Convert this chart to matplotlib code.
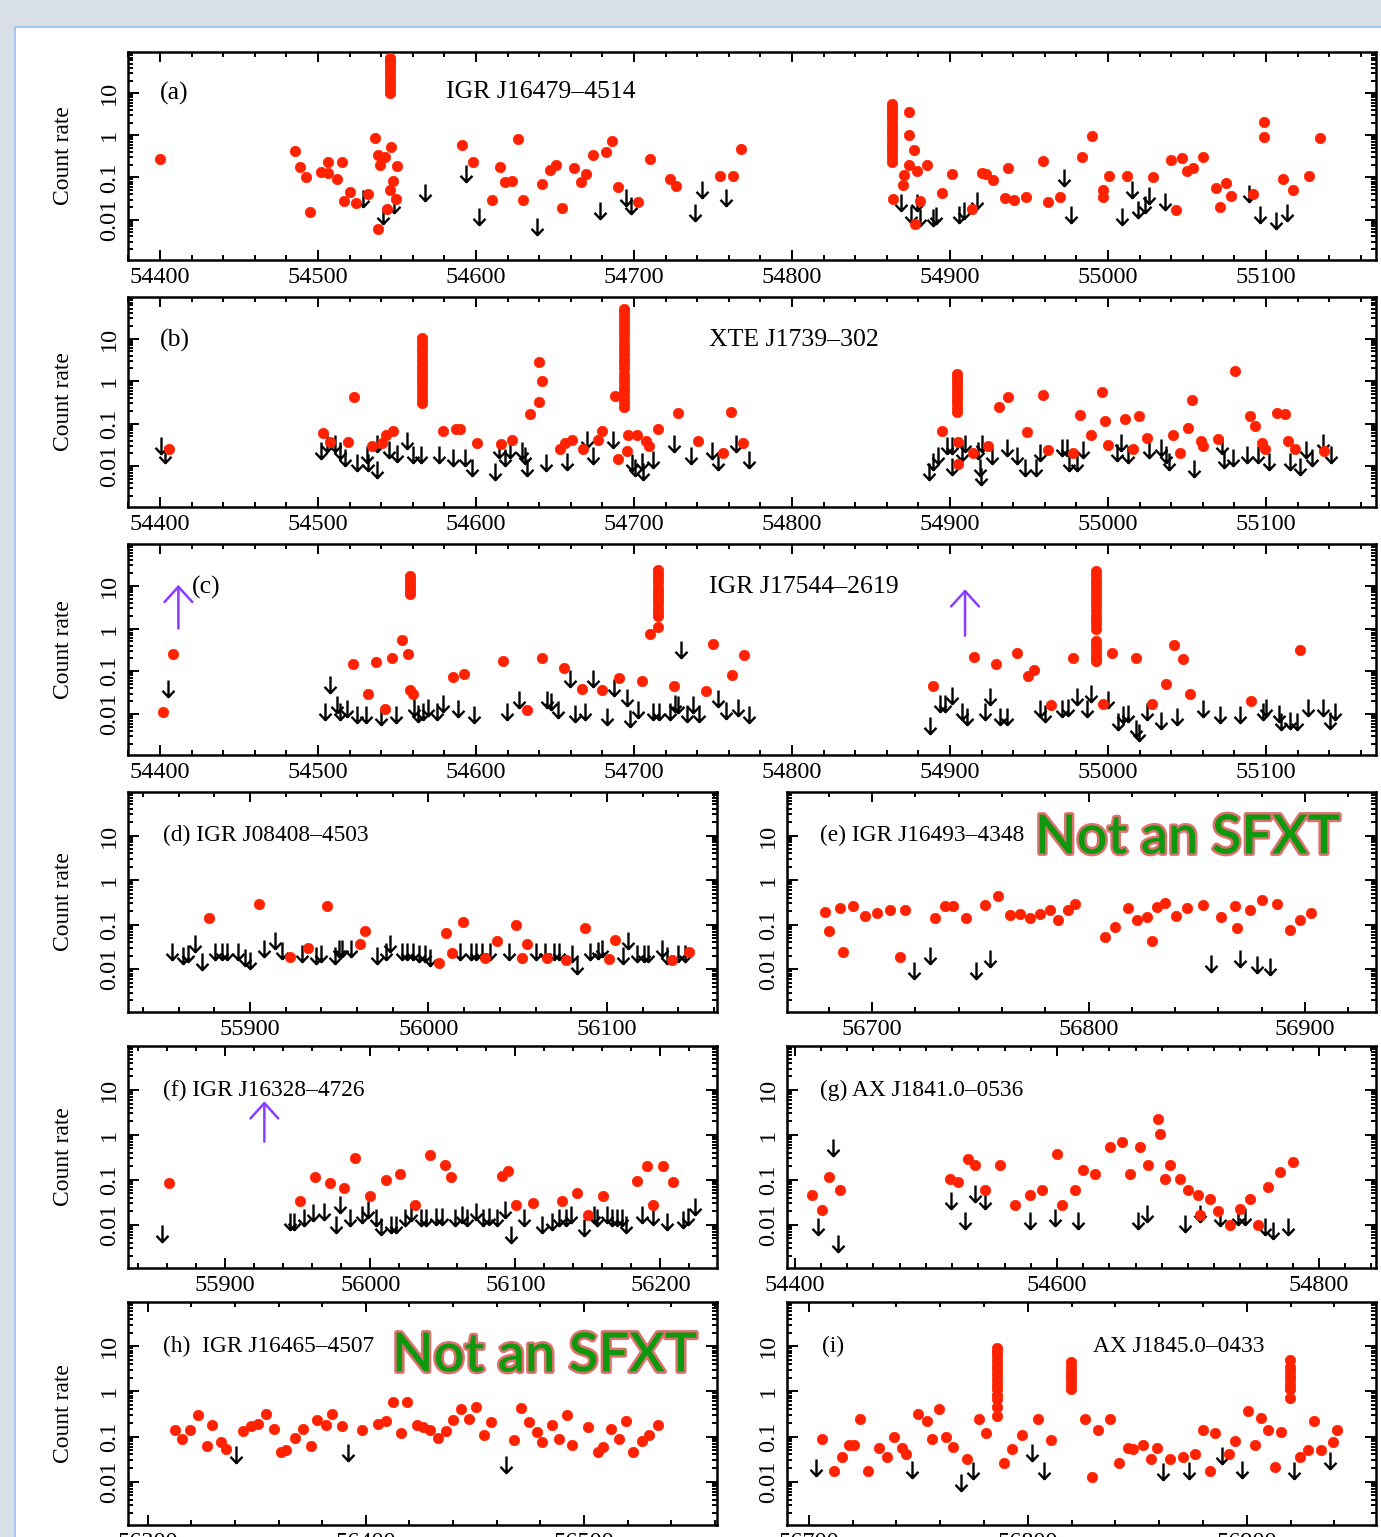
import numpy as np
import matplotlib.pyplot as plt
import matplotlib.patheffects as pe
from matplotlib.path import Path
from matplotlib.patches import Rectangle
from matplotlib.ticker import MultipleLocator, LogLocator, NullFormatter

plt.rcParams["font.family"] = ["Liberation Serif", "DejaVu Serif"]
plt.rcParams["font.size"] = 17.5

RED = "#ff2200"
PURPLE = "#8a3cff"

# ---------------- (a) IGR J16479-4514 ----------------
a_det = np.array([
    (54400, 0.28), (54485.4, 0.43), (54488.6, 0.175), (54492.4, 0.1), (54495, 0.015),
    (54501.7, 0.138), (54506.5, 0.23), (54506.5, 0.127), (54512.2, 0.09), (54515, 0.23),
    (54520.3, 0.044), (54516.7, 0.028), (54524, 0.025), (54531.8, 0.04), (54536, 0.88),
    (54538, 0.34), (54539.2, 0.2), (54542.4, 0.3), (54546, 0.53), (54549.8, 0.19),
    (54547.3, 0.083), (54545.6, 0.05), (54549.4, 0.031), (54543.5, 0.018), (54537.8, 0.006),
    (54545.6, 10), (54545.6, 12.5), (54545.6, 16), (54545.6, 20), (54545.6, 25),
    (54545.6, 31), (54545.6, 39), (54545.6, 48), (54545.6, 58), (54545.6, 68),
    (54591, 0.59), (54598, 0.23), (54615, 0.18), (54610.3, 0.03), (54618.4, 0.076),
    (54622.6, 0.083), (54626.4, 0.83), (54630, 0.029), (54642, 0.07), (54646.8, 0.15),
    (54650.4, 0.2), (54654.2, 0.019), (54662.2, 0.17), (54666.3, 0.08), (54669.6, 0.12),
    (54674.3, 0.34), (54682.3, 0.41), (54686.3, 0.73), (54690, 0.058), (54702.7, 0.026),
    (54710, 0.28), (54722.8, 0.09), (54726.6, 0.062), (54754.4, 0.11), (54762.8, 0.11),
    (54767.5, 0.47),
    (54863.5, 0.23), (54863.5, 0.3), (54863.5, 0.38), (54863.5, 0.48), (54863.5, 0.6),
    (54863.5, 0.75), (54863.5, 0.95), (54863.5, 1.2), (54863.5, 1.5), (54863.5, 1.9),
    (54863.5, 2.4), (54863.5, 3.0), (54863.5, 3.8), (54863.5, 4.8), (54863.5, 5.4),
    (54874, 3.5), (54874, 1.0), (54877, 0.45), (54874, 0.2), (54871, 0.115),
    (54870, 0.067), (54879.3, 0.14), (54864, 0.031), (54878, 0.008), (54881, 0.028),
    (54885.2, 0.2), (54894.7, 0.042), (54901.5, 0.124), (54913.7, 0.018), (54920, 0.13),
    (54923, 0.12), (54927, 0.086), (54936.5, 0.17), (54934.8, 0.032), (54940.7, 0.03),
    (54948, 0.035), (54958.7, 0.24), (54961.8, 0.026), (54969.6, 0.034), (54983.7, 0.31),
    (54990, 0.96), (54996.6, 0.05), (54997, 0.035), (55000.6, 0.11), (55011.8, 0.11),
    (55028.7, 0.1), (55042.8, 0.017), (55039.7, 0.26), (55046.6, 0.29), (55049.8, 0.14),
    (55053.6, 0.17), (55060.3, 0.3), (55068.2, 0.055), (55074.7, 0.072), (55077.6, 0.036),
    (55070.9, 0.02), (55092, 0.04), (55098.7, 2.1), (55098.7, 0.93), (55110.6, 0.09),
    (55116.9, 0.051), (55127.2, 0.11), (55134.2, 0.85),
])
a_ul = np.array([
    (54528.7, 0.051), (54541.4, 0.02), (54548, 0.036), (54567.7, 0.07), (54593.7, 0.2),
    (54602, 0.019), (54638.4, 0.011), (54678.5, 0.026), (54695, 0.053), (54698, 0.034),
    (54738.6, 0.023), (54742.8, 0.083), (54758, 0.053), (54869, 0.04), (54875, 0.021),
    (54879, 0.04), (54881, 0.018), (54889, 0.018), (54891, 0.02), (54905.9, 0.021),
    (54908.9, 0.026), (54916.9, 0.045), (54972, 0.16), (54976.4, 0.021), (55008.6, 0.019),
    (55015.4, 0.083), (55019.2, 0.027), (55023.4, 0.037), (55026, 0.06), (55036, 0.042),
    (55089, 0.066), (55096, 0.021), (55106, 0.015), (55113, 0.023),
])

# ---------------- (b) XTE J1739-302 ----------------
b_det = np.array([
    (54405.9, 0.025), (54503, 0.06), (54507.6, 0.037), (54518.8, 0.038), (54522.8, 0.43),
    (54534, 0.03), (54540.3, 0.035), (54542.9, 0.053), (54547.7, 0.069),
    (54566, 0.3), (54566, 0.38), (54566, 0.5), (54566, 0.65), (54566, 0.85),
    (54566, 1.1), (54566, 1.4), (54566, 1.8), (54566, 2.3), (54566, 3.0),
    (54566, 3.9), (54566, 5.0), (54566, 6.5), (54566, 8.3), (54566, 10.5),
    (54579.3, 0.069), (54587.3, 0.073), (54589.9, 0.073), (54600.8, 0.035), (54615.6, 0.033),
    (54622.6, 0.042), (54634, 0.17), (54639.9, 0.32), (54642, 1.0), (54639.9, 2.8),
    (54653.2, 0.025), (54656.3, 0.035), (54660.6, 0.042), (54668, 0.026), (54677, 0.042),
    (54680, 0.069), (54688, 0.45),
    (54693.9, 0.25), (54693.9, 0.32), (54693.9, 0.42), (54693.9, 0.55), (54693.9, 0.7),
    (54693.9, 0.9), (54693.9, 1.2), (54693.9, 1.5), (54693.9, 2.0), (54693.9, 2.6),
    (54693.9, 3.3), (54693.9, 4.3), (54693.9, 5.6), (54693.9, 7.2), (54693.9, 9.3),
    (54693.9, 12), (54693.9, 15.5), (54693.9, 20), (54693.9, 26), (54693.9, 33),
    (54693.9, 42), (54693.9, 50),
    (54690, 0.015), (54695.4, 0.023), (54696.4, 0.055), (54701.7, 0.055), (54707.6, 0.04),
    (54709.7, 0.03), (54715.4, 0.076), (54727.7, 0.18), (54740.3, 0.04), (54756.5, 0.021),
    (54761.2, 0.19), (54769.2, 0.035), (54895, 0.066),
    (54904.2, 0.19), (54904.2, 0.24), (54904.2, 0.3), (54904.2, 0.38), (54904.2, 0.48),
    (54904.2, 0.6), (54904.2, 0.75), (54904.2, 0.95), (54904.2, 1.2), (54904.2, 1.5),
    (54905, 0.038), (54905, 0.011), (54914.7, 0.021), (54924, 0.03), (54930.9, 0.25),
    (54936.9, 0.43), (54948.5, 0.063), (54959, 0.46), (54962, 0.024), (54978, 0.021),
    (54982, 0.16), (54989, 0.053), (54996.4, 0.57), (54998, 0.116), (55000, 0.032),
    (55010.8, 0.13), (55016, 0.025), (55019.8, 0.15), (55024.9, 0.046), (55041, 0.053),
    (55045.6, 0.02), (55050.8, 0.079), (55053.4, 0.36), (55059, 0.04), (55060, 0.03),
    (55069.8, 0.044), (55080.4, 1.7), (55089.9, 0.15), (55093, 0.09), (55097.3, 0.035),
    (55099.4, 0.025), (55107, 0.18), (55112, 0.17), (55114, 0.039), (55118.4, 0.025),
    (55137, 0.023),
])
b_ul = np.array([
    (54400.6, 0.048), (54403, 0.03), (54502, 0.037), (54505.5, 0.053), (54510.8, 0.053),
    (54514, 0.037), (54517, 0.025), (54524.5, 0.019), (54530.8, 0.03), (54531.8, 0.019),
    (54537, 0.053), (54537.5, 0.013), (54545, 0.04), (54550, 0.032), (54556.5, 0.063),
    (54559.9, 0.03), (54565, 0.03), (54576.8, 0.03), (54585.3, 0.025),
    (54593, 0.025), (54597.3, 0.015), (54612, 0.012), (54614.8, 0.04), (54618, 0.025),
    (54621.5, 0.04), (54628.9, 0.037), (54631, 0.028), (54632, 0.015), (54644.3, 0.019),
    (54657.4, 0.021), (54670, 0.069), (54673.7, 0.028), (54686.9, 0.069), (54698.5, 0.019),
    (54700.6, 0.015), (54704.9, 0.021), (54705.9, 0.012), (54711.8, 0.023), (54725, 0.053),
    (54736, 0.028), (54749.6, 0.037), (54752.9, 0.021), (54764.6, 0.053), (54772.8, 0.023),
    (54886.9, 0.012), (54889.4, 0.021), (54892.6, 0.028), (54897.9, 0.048), (54901, 0.048),
    (54901.5, 0.016), (54907.4, 0.033), (54909.5, 0.055), (54917.9, 0.037), (54919, 0.015),
    (54919.4, 0.009), (54920, 0.053), (54926.4, 0.029), (54936.3, 0.044), (54942.2, 0.028),
    (54947.5, 0.015), (54954.4, 0.015), (54957, 0.033), (54970.7, 0.044), (54973.9, 0.044),
    (54975.5, 0.019), (54980.6, 0.019), (54984.4, 0.04), (55005.5, 0.033), (55008.2, 0.058),
    (55012.9, 0.03), (55026, 0.04), (55033.4, 0.044), (55036.7, 0.03), (55038.8, 0.021),
    (55054.4, 0.014), (55072.3, 0.048), (55073.4, 0.023), (55079.3, 0.025), (55087.7, 0.03),
    (55095.1, 0.03), (55101.9, 0.021), (55115.2, 0.021), (55121.5, 0.016), (55125.3, 0.04),
    (55128.9, 0.025), (55136.2, 0.058), (55141, 0.03),
])

# ---------------- (c) IGR J17544-2619 ----------------
c_det = np.array([
    (54401.7, 0.011), (54408, 0.26), (54522, 0.148), (54531.8, 0.03), (54536.7, 0.165),
    (54542.4, 0.013), (54546.6, 0.2), (54553, 0.55), (54557.2, 0.26), (54558.2, 0.037),
    (54560.3, 0.03),
    (54558.2, 6.3), (54558.2, 7.5), (54558.2, 9), (54558.2, 10.5), (54558.2, 12.5),
    (54558.2, 14.5), (54558.2, 17),
    (54585.3, 0.073), (54592.4, 0.086), (54616.8, 0.17), (54632, 0.0125), (54641.6, 0.2),
    (54655.7, 0.12), (54666.9, 0.038), (54680, 0.037), (54690.5, 0.069), (54704.9, 0.06),
    (54710, 0.76), (54715.4, 1.1),
    (54715.4, 2.0), (54715.4, 2.5), (54715.4, 3.1), (54715.4, 3.9), (54715.4, 4.9),
    (54715.4, 6.1), (54715.4, 7.6), (54715.4, 9.5), (54715.4, 12), (54715.4, 15),
    (54715.4, 19), (54715.4, 24),
    (54725, 0.045), (54745.6, 0.035), (54750.2, 0.44), (54762.2, 0.083), (54769.8, 0.24),
    (54889.4, 0.045), (54915.2, 0.22), (54929, 0.15), (54942.6, 0.27), (54949.6, 0.078),
    (54953.2, 0.108), (54963.7, 0.016), (54978, 0.2),
    (54992.2, 0.17), (54992.2, 0.21), (54992.2, 0.26), (54992.2, 0.33), (54992.2, 0.41),
    (54992.2, 0.5), (54992.2, 1.0), (54992.2, 1.3), (54992.2, 1.6), (54992.2, 2.0),
    (54992.2, 2.6), (54992.2, 3.3), (54992.2, 4.2), (54992.2, 5.3), (54992.2, 6.7),
    (54992.2, 8.5), (54992.2, 11), (54992.2, 14), (54992.2, 18), (54992.2, 22),
    (54996.6, 0.017), (55002.3, 0.27), (55017.7, 0.2), (55028, 0.017), (55037, 0.05),
    (55041.8, 0.42), (55047.7, 0.19), (55051.9, 0.03), (55090.5, 0.02), (55121.5, 0.31),
])
c_ul = np.array([
    (54404.9, 0.063), (54507.6, 0.076), (54504.4, 0.018), (54511.8, 0.026), (54514, 0.018),
    (54518, 0.021), (54524.9, 0.015), (54530.2, 0.015), (54539.7, 0.014), (54549.4, 0.015),
    (54560.9, 0.023), (54563, 0.016), (54566.7, 0.018), (54569.8, 0.022), (54575.1, 0.018),
    (54578.9, 0.028), (54588.8, 0.021),
    (54598.7, 0.015), (54619.4, 0.018), (54627.4, 0.034), (54645, 0.034), (54647.3, 0.031),
    (54652.1, 0.02), (54659.5, 0.108), (54662.7, 0.016), (54669, 0.018), (54673.9, 0.108),
    (54682.7, 0.014), (54687.3, 0.066), (54695.4, 0.038), (54697.5, 0.0125), (54702.7, 0.02),
    (54711.8, 0.018), (54716, 0.018), (54722.8, 0.018), (54725.9, 0.028), (54728, 0.026),
    (54729.5, 0.5), (54733.3, 0.016), (54737.5, 0.027), (54741.3, 0.016), (54753.4, 0.037),
    (54758, 0.019), (54766.1, 0.023), (54773, 0.015),
    (54887, 0.0087), (54893.7, 0.028), (54896.8, 0.028), (54901.5, 0.044), (54907.4, 0.018),
    (54910.6, 0.014), (54922.2, 0.018), (54925, 0.04), (54931.6, 0.014), (54936.3, 0.014),
    (54957, 0.021), (54960, 0.016), (54970.7, 0.021), (54974.9, 0.023), (54980.2, 0.04),
    (54986.5, 0.021), (54989, 0.048), (54999.8, 0.034), (55006.5, 0.0104), (55009.7, 0.015),
    (55012.9, 0.016), (55017.7, 0.0072), (55019.8, 0.006), (55024.4, 0.018), (55033.4, 0.0114),
    (55043.9, 0.014), (55060, 0.021), (55071, 0.015), (55083.5, 0.015), (55098.3, 0.018),
    (55100, 0.023), (55108.4, 0.016), (55109.3, 0.0104), (55115.2, 0.011), (55119.4, 0.0104),
    (55126.8, 0.023), (55136.2, 0.023), (55140.5, 0.011), (55143.7, 0.018),
])
c_flags = [(54411.6, 1.0, 10.5), (54909.5, 0.68, 8.3)]

# ---------------- (d) IGR J08408-4503 ----------------
d_det = np.array([
    (55877.3, 0.139), (55905.2, 0.29), (55943.1, 0.26), (55964.5, 0.072), (55961.4, 0.037),
    (55922.5, 0.019), (55932.3, 0.03), (56005.8, 0.014), (56009.7, 0.064), (56013, 0.023),
    (56019.5, 0.117), (56031.6, 0.018), (56038.1, 0.043), (56048.9, 0.1), (56052.3, 0.018),
    (56055.4, 0.037), (56066.5, 0.018), (56076.8, 0.016), (56087.6, 0.085), (56101.3, 0.017),
    (56104.4, 0.045), (56136.6, 0.016), (56145.9, 0.025),
])
d_ul = np.array([
    (55856.1, 0.038), (55862.6, 0.032), (55865.2, 0.035), (55869.5, 0.059), (55872.9, 0.023),
    (55880.6, 0.038), (55884.5, 0.038), (55887.1, 0.038), (55893.5, 0.038), (55897.4, 0.029),
    (55900, 0.025), (55907.7, 0.045), (55914.2, 0.07), (55918.1, 0.042), (55929.2, 0.035),
    (55936.9, 0.032), (55940, 0.035), (55947.7, 0.032), (55949.8, 0.045), (55951.6, 0.045),
    (55956.8, 0.045), (55971, 0.032), (55976.1, 0.038), (55978.7, 0.059), (55985.2, 0.038),
    (55987.7, 0.038), (55991.1, 0.038), (55994.7, 0.035), (55998.1, 0.035), (56000.6, 0.029),
    (56017.4, 0.038), (56023.9, 0.038), (56026.5, 0.038), (56029.8, 0.038), (56034.2, 0.038),
    (56045.3, 0.038), (56060, 0.038), (56065.2, 0.038), (56070.3, 0.038), (56072.9, 0.038),
    (56080.6, 0.035), (56083.2, 0.019), (56090.2, 0.038), (56094.8, 0.042), (56097.4, 0.045),
    (56109, 0.032), (56111.6, 0.07), (56116.8, 0.035), (56120.6, 0.035), (56123.2, 0.035),
    (56131, 0.045), (56133.5, 0.032), (56140, 0.035), (56143.9, 0.035),
])

# ---------------- (e) IGR J16493-4348 ----------------
e_det = np.array([
    (56678.3, 0.19), (56680.1, 0.072), (56686.6, 0.025), (56685.2, 0.24), (56691.2, 0.26),
    (56696.8, 0.157), (56702.3, 0.18), (56708.3, 0.21), (56715.2, 0.21), (56712.9, 0.019),
    (56729.1, 0.14), (56733.7, 0.26), (56737.4, 0.26), (56743.4, 0.14), (56752.2, 0.275),
    (56758.2, 0.44), (56763.7, 0.165), (56768.4, 0.17), (56773, 0.14), (56777.6, 0.17),
    (56782.2, 0.21), (56785.9, 0.127), (56790.5, 0.21), (56793.8, 0.29), (56807.6, 0.053),
    (56812.2, 0.089), (56818.2, 0.24), (56822.4, 0.127), (56827, 0.149), (56831.6, 0.25),
    (56835.3, 0.3), (56840.4, 0.157), (56829.3, 0.043), (56845.5, 0.24), (56852.9, 0.275),
    (56861.2, 0.149), (56868.6, 0.084), (56867.7, 0.26), (56874.6, 0.21), (56880.1, 0.36),
    (56887.1, 0.29), (56893.1, 0.076), (56897.7, 0.127), (56902.8, 0.18),
])
e_ul = np.array([
    (56719.4, 0.0146), (56726.8, 0.032), (56748, 0.0146), (56754.5, 0.027), (56856.6, 0.021),
    (56870, 0.027), (56877.8, 0.02), (56883.8, 0.018),
])

# ---------------- (f) IGR J16328-4726 ----------------
f_det = np.array([
    (55861, 0.087), (55951.4, 0.034), (55961.9, 0.119), (55972.1, 0.084), (55981.9, 0.067),
    (55989.5, 0.3), (56000, 0.044), (56010.5, 0.1), (56020.6, 0.138), (56031, 0.027),
    (56041.3, 0.36), (56051.4, 0.213), (56055.6, 0.117), (56090.5, 0.123), (56094.6, 0.16),
    (56100.6, 0.028), (56112, 0.031), (56132.4, 0.034), (56142.2, 0.05), (56150.2, 0.017),
    (56160.3, 0.045), (56184.1, 0.095), (56190.5, 0.206), (56194.6, 0.028), (56201.6, 0.206),
    (56208.6, 0.092),
])
f_ul = np.array([
    (55856.2, 0.0102), (55944.4, 0.0186), (55947.6, 0.0186), (55954, 0.022), (55960.3, 0.0285),
    (55968.3, 0.031), (55976.2, 0.0157), (55979.4, 0.044), (55985.7, 0.022), (55994.3, 0.026),
    (55998.4, 0.034), (56004.1, 0.022), (56007.3, 0.0144), (56014.3, 0.0157), (56017.5, 0.0157),
    (56023.8, 0.022), (56027.9, 0.0285), (56034.9, 0.022), (56038.1, 0.022), (56045.4, 0.024),
    (56049.2, 0.024), (56058.1, 0.022), (56062.9, 0.026), (56066.7, 0.022), (56073, 0.031),
    (56077.8, 0.022), (56081.6, 0.024), (56087.3, 0.022), (56093, 0.034), (56096.8, 0.0094),
    (56106.3, 0.022), (56118.4, 0.0157), (56125.4, 0.0186), (56130.2, 0.022), (56134.9, 0.022),
    (56138.1, 0.026), (56147, 0.0133), (56154, 0.026), (56156.5, 0.022), (56162.9, 0.026),
    (56166.7, 0.022), (56169.8, 0.022), (56173.7, 0.022), (56176.2, 0.0157), (56187.3, 0.026),
    (56195.2, 0.024), (56204.8, 0.0186), (56215.9, 0.02), (56219, 0.024), (56223.8, 0.04),
])
f_flags = [(55927, 0.71, 5.6)]

# ---------------- (g) AX J1841.0-0536 ----------------
g_det = np.array([
    (54413, 0.047), (54420.6, 0.021), (54426, 0.114), (54434.4, 0.061), (54518.3, 0.103),
    (54524.4, 0.088), (54532, 0.29), (54537.4, 0.22), (54545, 0.061), (54556.5, 0.22),
    (54568, 0.028), (54579.4, 0.047), (54588.5, 0.061), (54600, 0.37), (54603.8, 0.028),
    (54613.7, 0.061), (54619.8, 0.17), (54629, 0.133), (54640.5, 0.54), (54649.6, 0.7),
    (54655.7, 0.133), (54663.4, 0.54), (54669.5, 0.22), (54677.1, 2.3), (54678.6, 1.05),
    (54682.4, 0.103), (54686.3, 0.22), (54693.9, 0.103), (54700, 0.061), (54707.6, 0.047),
    (54709.2, 0.017), (54716.8, 0.037), (54722.9, 0.02), (54732, 0.01), (54739.7, 0.022),
    (54747.3, 0.037), (54753.4, 0.01), (54761, 0.068), (54770.2, 0.147), (54780.2, 0.25),
])
g_ul = np.array([
    (54417.6, 0.0144), (54429, 0.81), (54432.8, 0.0059), (54519, 0.055), (54529.8, 0.0196),
    (54537.4, 0.079), (54545, 0.055), (54579.4, 0.0196), (54598.5, 0.022), (54616, 0.0196),
    (54661.8, 0.0196), (54668.7, 0.028), (54697.7, 0.017), (54709.2, 0.028), (54724.4, 0.022),
    (54738.2, 0.024), (54743.5, 0.024), (54758.8, 0.0144), (54764.9, 0.0118), (54776.3, 0.0144),
])

# ---------------- (h) IGR J16465-4507 ----------------
h_det = np.array([
    (56312.7, 0.141), (56315.8, 0.087), (56319.2, 0.138), (56323.2, 0.30), (56327, 0.062),
    (56329.7, 0.179), (56333.8, 0.074), (56335.9, 0.052), (56343.9, 0.134), (56347.5, 0.172),
    (56350.8, 0.188), (56354.4, 0.314), (56358, 0.146), (56361.2, 0.046), (56363.3, 0.05),
    (56367.5, 0.095), (56371.3, 0.15), (56374.9, 0.062), (56377.6, 0.235), (56381.9, 0.179),
    (56384.4, 0.314), (56389.2, 0.167), (56398.3, 0.138), (56405.7, 0.188), (56409.3, 0.223),
    (56412.4, 0.59), (56416, 0.119), (56418.8, 0.59), (56423.4, 0.179), (56426.2, 0.159),
    (56429.3, 0.141), (56432.9, 0.095), (56436.7, 0.134), (56439.9, 0.235), (56443.7, 0.405),
    (56447.3, 0.243), (56450.4, 0.44), (56454, 0.107), (56457.4, 0.212), (56467.9, 0.084),
    (56471.1, 0.42), (56474.7, 0.205), (56478.5, 0.129), (56481, 0.074), (56485.2, 0.179),
    (56488.4, 0.09), (56492.2, 0.30), (56494.7, 0.066), (56501.7, 0.159), (56506.3, 0.046),
    (56508.9, 0.06), (56512.2, 0.146), (56516.2, 0.09), (56519.4, 0.223), (56522.6, 0.046),
    (56526.4, 0.08), (56530, 0.107), (56533.8, 0.182),
])
h_ul = np.array([(56340.3, 0.062), (56392, 0.067), (56464.1, 0.037)])

# ---------------- (i) AX J1845.0-0433 ----------------
i_det = np.array([
    (56705.8, 0.086), (56711.3, 0.0176), (56715.1, 0.036), (56718.1, 0.066), (56720.6, 0.066),
    (56723.5, 0.25), (56726.8, 0.0176), (56732.2, 0.056), (56735.5, 0.036), (56738.8, 0.1),
    (56742.7, 0.056), (56744.3, 0.04), (56749.7, 0.31), (56754, 0.22), (56756.3, 0.086),
    (56759.4, 0.41), (56762.7, 0.1), (56766, 0.06), (56772, 0.032), (56777.9, 0.24),
    (56780.8, 0.12),
    (56786, 0.29), (56786, 0.44), (56786, 0.67), (56786, 0.85), (56786, 1.1),
    (56786, 1.4), (56786, 1.8), (56786, 2.3), (56786, 2.9), (56786, 3.7),
    (56786, 4.7), (56786, 6.0), (56786, 7.5), (56786, 8.9),
    (56789.3, 0.026), (56792.8, 0.053), (56797.1, 0.11), (56804.5, 0.25), (56810.7, 0.083),
    (56819.6, 1.13), (56819.6, 1.4), (56819.6, 1.75), (56819.6, 2.2), (56819.6, 2.7),
    (56819.6, 3.4), (56819.6, 4.4),
    (56826.2, 0.25), (56832.2, 0.138), (56837.5, 0.25), (56829.1, 0.013), (56841.4, 0.026),
    (56845.6, 0.056), (56848.2, 0.053), (56852.6, 0.066), (56856.3, 0.032), (56858.8, 0.056),
    (56864.7, 0.032), (56870.9, 0.036), (56876.3, 0.042), (56880.2, 0.143), (56883.1, 0.0176),
    (56885.4, 0.117), (56891.8, 0.04), (56894.8, 0.079), (56900.6, 0.37), (56903.9, 0.066),
    (56906.4, 0.26), (56909.7, 0.138), (56912.8, 0.0216), (56915.5, 0.127),
    (56919.6, 0.73), (56919.6, 1.13), (56919.6, 1.4), (56919.6, 1.75), (56919.6, 2.2),
    (56919.6, 2.8), (56919.6, 3.5), (56919.6, 4.9),
    (56924.5, 0.035), (56927.8, 0.051), (56930.7, 0.22), (56934, 0.05), (56939.4, 0.075),
    (56941, 0.138),
])
i_ul = np.array([
    (56703.1, 0.031), (56747.2, 0.029), (56769.5, 0.0149), (56774.8, 0.027), (56801.9, 0.07),
    (56807.4, 0.027), (56861.7, 0.026), (56873.5, 0.027), (56888.5, 0.06), (56897.7, 0.028),
    (56921.6, 0.027), (56937.9, 0.045),
])

# ---------------- figure ----------------
W, H = 1381, 1537
fig = plt.figure(figsize=(W / 100, H / 100), dpi=100, facecolor="#d9dfe7")
fig.patches.append(Rectangle((15 / W, -0.05), 1.2, 1 - 27 / H + 0.05,
                             transform=fig.transFigure, facecolor="white",
                             edgecolor="#a6c6ec", lw=1.5, zorder=-10))

# down-arrow marker for upper limits; origin sits at the top of the shaft
DOWN = Path([(0, 0), (0, -1), (-0.36, -0.62), (0, -1), (0.36, -0.62)],
            [Path.MOVETO, Path.LINETO, Path.MOVETO, Path.LINETO, Path.LINETO])


def fx(px):
    return px / W


def make_axes(l, t, r, b):
    return fig.add_axes([fx(l), 1 - b / H, fx(r) - fx(l), (b - t) / H])


def draw(ax, det, ul, xlim, xmajor, ylabel=True, flags=()):
    ax.plot(ul[:, 0], ul[:, 1], ls="none", marker=DOWN, ms=24, mec="black",
            mfc="none", mew=1.7, zorder=3)
    ax.plot(det[:, 0], det[:, 1], ls="none", marker="o", ms=7.5, color=RED,
            mec=RED, mew=0.5, zorder=4)
    for x, lo, hi in flags:
        ax.annotate("", xy=(x, hi), xytext=(x, lo),
                    arrowprops=dict(arrowstyle="->,head_length=0.55,head_width=0.5",
                                    color=PURPLE, lw=1.8, mutation_scale=20,
                                    shrinkA=0, shrinkB=0))
    ax.set_yscale("log")
    ax.set_ylim(1.1e-3, 95)
    ax.set_xlim(*xlim)
    ax.set_yticks([0.01, 0.1, 1, 10])
    ax.set_yticklabels(["0.01", "0.1", "1", "10"], rotation=90, va="center")
    ax.yaxis.set_minor_locator(LogLocator(base=10, subs=np.arange(2, 10), numticks=20))
    ax.yaxis.set_minor_formatter(NullFormatter())
    ax.xaxis.set_major_locator(MultipleLocator(xmajor))
    ax.xaxis.set_minor_locator(MultipleLocator(20))
    ax.tick_params(which="both", direction="in", top=True, right=True, width=1.4)
    ax.tick_params(which="major", length=7, labelsize=17.5, pad=5)
    ax.tick_params(which="minor", length=3.5)
    ax.tick_params(axis="y", which="major", length=8, pad=6)
    ax.xaxis.get_major_formatter().set_useOffset(False)
    for s in ax.spines.values():
        s.set_linewidth(1.8)
    if ylabel:
        ax.set_ylabel("Count rate", fontsize=17, labelpad=18)


top_lim = (54379.7, 55169.6)
ax_a = make_axes(128, 52, 1376, 260)
draw(ax_a, a_det, a_ul, top_lim, 100)
ax_b = make_axes(128, 297, 1376, 507)
draw(ax_b, b_det, b_ul, top_lim, 100)
ax_c = make_axes(128, 544, 1376, 755)
draw(ax_c, c_det, c_ul, top_lim, 100, flags=c_flags)
ax_d = make_axes(128, 792, 717, 1012)
draw(ax_d, d_det, d_ul, (55831.7, 56161.6), 100)
ax_e = make_axes(787, 792, 1376, 1012)
draw(ax_e, e_det, e_ul, (56660.7, 56932.8), 100, ylabel=False)
ax_f = make_axes(128, 1046, 717, 1268)
draw(ax_f, f_det, f_ul, (55833, 56239), 100, flags=f_flags)
ax_g = make_axes(787, 1046, 1376, 1268)
draw(ax_g, g_det, g_ul, (54394, 54843.5), 200, ylabel=False)
ax_h = make_axes(128, 1302, 717, 1525)
draw(ax_h, h_det, h_ul, (56291, 56561), 100)
ax_i = make_axes(787, 1302, 1376, 1525)
draw(ax_i, i_det, i_ul, (56690, 56959), 100, ylabel=False)


def label(px, py, s, size=18.5):
    fig.text(fx(px), 1 - py / H, s, ha="left", va="center", fontsize=size)


label(160, 93, "(a)")
label(446, 92, "IGR J16479\u20134514")
label(160, 340, "(b)")
label(709, 340, "XTE J1739\u2013302")
label(192, 587, "(c)")
label(709, 587, "IGR J17544\u20132619")
label(163, 835, "(d) IGR J08408\u20134503", 16.8)
label(820, 835, "(e) IGR J16493\u20134348", 16.8)
label(163, 1090, "(f) IGR J16328\u20134726", 16.8)
label(820, 1090, "(g) AX J1841.0\u20130536", 16.8)
label(163, 1346, "(h)  IGR J16465\u20134507", 16.8)
label(822, 1346, "(i)", 16.8)
label(1093, 1346, "AX J1845.0\u20130433", 16.8)

for px, py in [(1035, 838), (392, 1356)]:
    fig.text(fx(px), 1 - py / H, "Not an SFXT", ha="left", va="center",
             fontsize=39, family="Lato", fontweight="semibold", color="#0e980e",
             path_effects=[pe.withStroke(linewidth=3.5, foreground="#e07070")])

fig.savefig("out.png", dpi=100, facecolor=fig.get_facecolor())
